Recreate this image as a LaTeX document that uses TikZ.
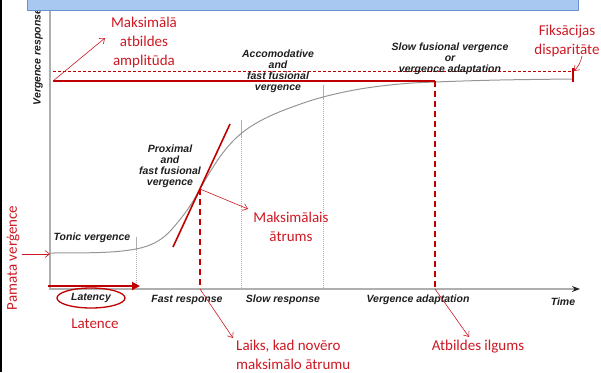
\documentclass[tikz,border=0pt]{standalone}
\usepackage{fontspec}
\setmainfont{Carlito}
\newfontfamily\labfont{Liberation Sans}
\usetikzlibrary{arrows.meta,shapes.geometric}
\definecolor{rd}{RGB}{205,25,35}
\definecolor{drd}{RGB}{192,0,0}
\definecolor{axc}{RGB}{175,175,175}
\definecolor{crv}{RGB}{150,150,150}
\definecolor{barfill}{RGB}{168,200,242}
\definecolor{barline}{RGB}{105,145,210}
\definecolor{lab}{RGB}{30,30,30}
\begin{document}
\begin{tikzpicture}[x=1pt,y=-1pt,
  redtxt/.style={text=rd, font=\fontsize{15}{19}\selectfont, align=center, inner sep=0pt},
  blk/.style={text=lab, font=\labfont\bfseries\itshape\fontsize{10.5}{11}\selectfont, align=center, inner sep=0pt},
  thinarrow/.style={draw=rd, line width=0.6pt, -{Straight Barb[length=4.5pt,width=7pt]}},
  thickred/.style={draw=drd, line width=1.8pt},
  reddash/.style={draw=drd, line width=1.8pt, dash pattern=on 6pt off 4pt},
  solidtick/.style={draw=axc, line width=0.9pt},
  dottick/.style={draw=axc, line width=0.9pt, dash pattern=on 1pt off 1pt}
]
\useasboundingbox (0,0) rectangle (601,372);

% black left rule
\coordinate (lt) at (1,0);
\coordinate (lb) at (1,372);
\draw[black, line width=2pt] (lt) -- (lb);

% axes
\coordinate (ytop) at (50,8);
\coordinate (O) at (50,289);
\coordinate (xend) at (580,289);
\draw[axc, line width=1.5pt, -{Stealth[length=8pt,width=6pt,color=black!85]}] (ytop) -- (O) -- (xend);

\node[blk, rotate=90] (vr) at (38,57) {Vergence response};

% section ticks
\draw[solidtick] (136,237) -- (136,250);
\draw[dottick] (136,250) -- (136,289);
\draw[solidtick] (241,120) -- (241,137);
\draw[dottick] (241,137) -- (241,289);
\draw[solidtick] (323,85) -- (323,99);
\draw[dottick] (323,99) -- (323,289);

% response curve
\draw[crv, line width=1pt] plot[smooth, tension=0.6] coordinates {
 (50,253) (100,252.5) (130,250) (150,245) (165,236) (178,222) (190,206)
 (200,189) (210,172) (222,154) (235,139) (250,127) (270,116) (295,106)
 (323,97) (360,89) (400,84) (435,82) (500,80) (573,79)};

% amplitude lines
\coordinate (amp0) at (53,81);
\coordinate (amp1) at (435,81);
\coordinate (dis0) at (53,71);
\coordinate (dis1) at (573,71);
\coordinate (dur) at (435,289);
\draw[thickred] (amp0) -- (amp1);
\draw[drd, line width=0.6pt, dash pattern=on 3pt off 2pt] (dis0) -- (dis1);
\draw[drd, line width=2pt] (573,68) -- (573,82);
\draw[reddash] (amp1) -- (dur);

% tangent
\coordinate (tg0) at (173,247);
\coordinate (tg1) at (230,124);
\coordinate (tp) at (200,189);
\coordinate (tpx) at (200,289);
\draw[drd, line width=1.6pt] (tg0) -- (tg1);
\draw[reddash] (tp) -- (tpx);

% latency arrow
\coordinate (la0) at (48,286);
\coordinate (la1) at (140,286);
\draw[draw=drd, line width=1.8pt, -{Triangle[length=8pt,width=8pt]}] (la0) -- (la1);

% black labels
\node[blk] (acc) at (278,71) {Accomodative\\and\\fast fusional\\vergence};
\node[blk] (slow) at (450,59) {Slow fusional vergence\\or\\vergence adaptation};
\node[blk] (prox) at (170,166) {Proximal\\and\\fast fusional\\vergence};
\node[blk] (tonic) at (92,238) {Tonic vergence};
\node[blk, draw=drd, line width=1.3pt, ellipse, minimum width=68pt, minimum height=20pt] (lat) at (91,298) {Latency};
\node[blk] (fast) at (187,300) {Fast response};
\node[blk] (slowr) at (283,300) {Slow response};
\node[blk] (vadapt) at (418,300) {Vergence adaptation};
\node[blk] (time) at (563,302) {Time};

% red labels
\node[redtxt] (maxamp) at (144,42) {Maksimālā\\atbildes\\amplitūda};
\node[redtxt] (fix) at (567,41) {Fiksācijas\\disparitāte};
\node[redtxt] (maxv) at (291,227) {Maksimālais\\ātrums};
\node[redtxt] (latence) at (95,324) {Latence};
\node[redtxt, align=left, anchor=west] (laiks) at (236,355) {Laiks, kad novēro\\maksimālo ātrumu};
\node[redtxt] (atb) at (478,347) {Atbildes ilgums};
\node[redtxt, rotate=90] (pamata) at (13,258) {Pamata verģence};

% red arrows
\coordinate (maxampend) at (105,38);
\draw[thinarrow] (amp0) -- (maxampend);
\coordinate (maxvend) at (248,209);
\draw[thinarrow] (tp) -- (maxvend);
\coordinate (laiksend) at (233,338);
\draw[thinarrow] (tpx) -- (laiksend);
\coordinate (atbend) at (469,337);
\draw[thinarrow] (dur) -- (atbend);
\coordinate (pam0) at (22,254);
\coordinate (pam1) at (50,254);
\draw[thinarrow] (pam0) -- (pam1);
\coordinate (fix0) at (582,56);
\coordinate (fix1) at (574,71);
\draw[thinarrow] (fix0) to[bend left=15] (fix1);

% title bar
\draw[barline, fill=barfill, line width=0.8pt] (27,-2) rectangle (578,10);
\end{tikzpicture}
\end{document}
